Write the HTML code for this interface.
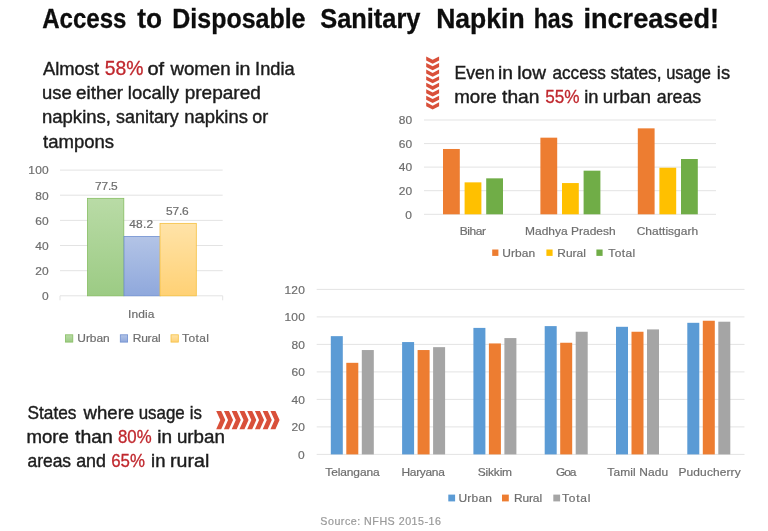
<!DOCTYPE html>
<html lang="en"><head><meta charset="utf-8"><title>Access to Disposable Sanitary Napkin has increased!</title>
<style>
html,body{margin:0;padding:0;background:#fff;}
svg{display:block;font-family:"Liberation Sans", sans-serif;filter:blur(0.45px);}
</style></head><body>
<svg width="768" height="531" viewBox="0 0 768 531">
<rect width="768" height="531" fill="#ffffff"/>
<text y="27.8" font-weight="bold"><tspan x="42.20" font-size="27.2" fill="#0d0d0d" stroke="#0d0d0d" stroke-width="0.3" textLength="84.19" lengthAdjust="spacingAndGlyphs">Access</tspan> <tspan x="137.20" font-size="27.2" fill="#0d0d0d" stroke="#0d0d0d" stroke-width="0.3" textLength="24.79" lengthAdjust="spacingAndGlyphs">to</tspan> <tspan x="172.28" font-size="27.2" fill="#0d0d0d" stroke="#0d0d0d" stroke-width="0.3" textLength="133.23" lengthAdjust="spacingAndGlyphs">Disposable</tspan> <tspan x="320.20" font-size="27.2" fill="#0d0d0d" stroke="#0d0d0d" stroke-width="0.3" textLength="100.31" lengthAdjust="spacingAndGlyphs">Sanitary</tspan> <tspan x="436.22" font-size="27.2" fill="#0d0d0d" stroke="#0d0d0d" stroke-width="0.3" textLength="88.44" lengthAdjust="spacingAndGlyphs">Napkin</tspan> <tspan x="533.65" font-size="27.2" fill="#0d0d0d" stroke="#0d0d0d" stroke-width="0.3" textLength="40.01" lengthAdjust="spacingAndGlyphs">has</tspan> <tspan x="583.50" font-size="27.2" fill="#0d0d0d" stroke="#0d0d0d" stroke-width="0.3" textLength="135.44" lengthAdjust="spacingAndGlyphs">increased!</tspan></text>
<text y="75.2" font-weight="normal"><tspan x="43.00" font-size="17.8" fill="#1c1c1c" stroke="#1c1c1c" stroke-width="0.4" textLength="56.04" lengthAdjust="spacingAndGlyphs">Almost</tspan> <tspan x="104.80" font-size="20.4" fill="#c0282e" stroke="#c0282e" stroke-width="0.3" textLength="38.72" lengthAdjust="spacingAndGlyphs">58%</tspan> <tspan x="147.40" font-size="17.8" fill="#1c1c1c" stroke="#1c1c1c" stroke-width="0.4" textLength="16.73" lengthAdjust="spacingAndGlyphs">of</tspan> <tspan x="170.45" font-size="17.8" fill="#1c1c1c" stroke="#1c1c1c" stroke-width="0.4" textLength="60.18" lengthAdjust="spacingAndGlyphs">women</tspan> <tspan x="235.20" font-size="17.8" fill="#1c1c1c" stroke="#1c1c1c" stroke-width="0.4" textLength="15.29" lengthAdjust="spacingAndGlyphs">in</tspan> <tspan x="255.08" font-size="17.8" fill="#1c1c1c" stroke="#1c1c1c" stroke-width="0.4" textLength="39.51" lengthAdjust="spacingAndGlyphs">India</tspan></text>
<text y="99.3" font-weight="normal"><tspan x="41.96" font-size="17.8" fill="#1c1c1c" stroke="#1c1c1c" stroke-width="0.4" textLength="29.72" lengthAdjust="spacingAndGlyphs">use</tspan> <tspan x="76.10" font-size="17.8" fill="#1c1c1c" stroke="#1c1c1c" stroke-width="0.4" textLength="47.02" lengthAdjust="spacingAndGlyphs">either</tspan> <tspan x="127.86" font-size="17.8" fill="#1c1c1c" stroke="#1c1c1c" stroke-width="0.4" textLength="51.22" lengthAdjust="spacingAndGlyphs">locally</tspan> <tspan x="184.73" font-size="17.8" fill="#1c1c1c" stroke="#1c1c1c" stroke-width="0.4" textLength="76.12" lengthAdjust="spacingAndGlyphs">prepared</tspan></text>
<text y="123.4" font-weight="normal"><tspan x="41.96" font-size="17.8" fill="#1c1c1c" stroke="#1c1c1c" stroke-width="0.4" textLength="69.02" lengthAdjust="spacingAndGlyphs">napkins,</tspan> <tspan x="116.10" font-size="17.8" fill="#1c1c1c" stroke="#1c1c1c" stroke-width="0.4" textLength="62.69" lengthAdjust="spacingAndGlyphs">sanitary</tspan> <tspan x="184.36" font-size="17.8" fill="#1c1c1c" stroke="#1c1c1c" stroke-width="0.4" textLength="63.52" lengthAdjust="spacingAndGlyphs">napkins</tspan> <tspan x="252.30" font-size="17.8" fill="#1c1c1c" stroke="#1c1c1c" stroke-width="0.4" textLength="15.92" lengthAdjust="spacingAndGlyphs">or</tspan></text>
<text y="147.5" font-weight="normal"><tspan x="43.00" font-size="17.8" fill="#1c1c1c" stroke="#1c1c1c" stroke-width="0.4" textLength="71.09" lengthAdjust="spacingAndGlyphs">tampons</tspan></text>
<text y="79.2" font-weight="normal"><tspan x="454.51" font-size="17.8" fill="#1c1c1c" stroke="#1c1c1c" stroke-width="0.4" textLength="40.28" lengthAdjust="spacingAndGlyphs">Even</tspan> <tspan x="498.12" font-size="17.8" fill="#1c1c1c" stroke="#1c1c1c" stroke-width="0.4" textLength="14.94" lengthAdjust="spacingAndGlyphs">in</tspan> <tspan x="517.33" font-size="17.8" fill="#1c1c1c" stroke="#1c1c1c" stroke-width="0.4" textLength="28.60" lengthAdjust="spacingAndGlyphs">low</tspan> <tspan x="552.50" font-size="17.8" fill="#1c1c1c" stroke="#1c1c1c" stroke-width="0.4" textLength="53.39" lengthAdjust="spacingAndGlyphs">access</tspan> <tspan x="610.50" font-size="17.8" fill="#1c1c1c" stroke="#1c1c1c" stroke-width="0.4" textLength="51.12" lengthAdjust="spacingAndGlyphs">states,</tspan> <tspan x="666.17" font-size="17.8" fill="#1c1c1c" stroke="#1c1c1c" stroke-width="0.4" textLength="44.82" lengthAdjust="spacingAndGlyphs">usage</tspan> <tspan x="716.87" font-size="17.8" fill="#1c1c1c" stroke="#1c1c1c" stroke-width="0.4" textLength="13.22" lengthAdjust="spacingAndGlyphs">is</tspan></text>
<text y="103.0" font-weight="normal"><tspan x="454.15" font-size="17.8" fill="#1c1c1c" stroke="#1c1c1c" stroke-width="0.4" textLength="42.64" lengthAdjust="spacingAndGlyphs">more</tspan> <tspan x="502.10" font-size="17.8" fill="#1c1c1c" stroke="#1c1c1c" stroke-width="0.4" textLength="37.36" lengthAdjust="spacingAndGlyphs">than</tspan> <tspan x="545.20" font-size="18.4" fill="#c0282e" stroke="#c0282e" stroke-width="0.3" textLength="34.33" lengthAdjust="spacingAndGlyphs">55%</tspan> <tspan x="584.17" font-size="17.8" fill="#1c1c1c" stroke="#1c1c1c" stroke-width="0.4" textLength="14.24" lengthAdjust="spacingAndGlyphs">in</tspan> <tspan x="602.74" font-size="17.8" fill="#1c1c1c" stroke="#1c1c1c" stroke-width="0.4" textLength="48.20" lengthAdjust="spacingAndGlyphs">urban</tspan> <tspan x="656.80" font-size="17.8" fill="#1c1c1c" stroke="#1c1c1c" stroke-width="0.4" textLength="44.39" lengthAdjust="spacingAndGlyphs">areas</tspan></text>
<text y="418.9" font-weight="normal"><tspan x="27.50" font-size="17.8" fill="#1c1c1c" stroke="#1c1c1c" stroke-width="0.4" textLength="48.89" lengthAdjust="spacingAndGlyphs">States</tspan> <tspan x="83.55" font-size="17.8" fill="#1c1c1c" stroke="#1c1c1c" stroke-width="0.4" textLength="50.64" lengthAdjust="spacingAndGlyphs">where</tspan> <tspan x="138.65" font-size="17.8" fill="#1c1c1c" stroke="#1c1c1c" stroke-width="0.4" textLength="46.05" lengthAdjust="spacingAndGlyphs">usage</tspan> <tspan x="189.85" font-size="17.8" fill="#1c1c1c" stroke="#1c1c1c" stroke-width="0.4" textLength="12.14" lengthAdjust="spacingAndGlyphs">is</tspan></text>
<text y="443.1" font-weight="normal"><tspan x="26.45" font-size="17.8" fill="#1c1c1c" stroke="#1c1c1c" stroke-width="0.4" textLength="42.43" lengthAdjust="spacingAndGlyphs">more</tspan> <tspan x="75.00" font-size="17.8" fill="#1c1c1c" stroke="#1c1c1c" stroke-width="0.4" textLength="37.87" lengthAdjust="spacingAndGlyphs">than</tspan> <tspan x="118.00" font-size="18.0" fill="#c0282e" stroke="#c0282e" stroke-width="0.3" textLength="33.60" lengthAdjust="spacingAndGlyphs">80%</tspan> <tspan x="157.33" font-size="17.8" fill="#1c1c1c" stroke="#1c1c1c" stroke-width="0.4" textLength="14.82" lengthAdjust="spacingAndGlyphs">in</tspan> <tspan x="176.94" font-size="17.8" fill="#1c1c1c" stroke="#1c1c1c" stroke-width="0.4" textLength="47.99" lengthAdjust="spacingAndGlyphs">urban</tspan></text>
<text y="466.8" font-weight="normal"><tspan x="27.50" font-size="17.8" fill="#1c1c1c" stroke="#1c1c1c" stroke-width="0.4" textLength="43.59" lengthAdjust="spacingAndGlyphs">areas</tspan> <tspan x="76.20" font-size="17.8" fill="#1c1c1c" stroke="#1c1c1c" stroke-width="0.4" textLength="29.79" lengthAdjust="spacingAndGlyphs">and</tspan> <tspan x="111.20" font-size="18.0" fill="#c0282e" stroke="#c0282e" stroke-width="0.3" textLength="33.70" lengthAdjust="spacingAndGlyphs">65%</tspan> <tspan x="151.06" font-size="17.8" fill="#1c1c1c" stroke="#1c1c1c" stroke-width="0.4" textLength="14.36" lengthAdjust="spacingAndGlyphs">in</tspan> <tspan x="170.10" font-size="17.8" fill="#1c1c1c" stroke="#1c1c1c" stroke-width="0.4" textLength="39.15" lengthAdjust="spacingAndGlyphs">rural</tspan></text>
<polygon fill="#d9503a" points="426.20,56.50 432.65,59.80 439.10,56.50 439.10,60.40 432.65,63.70 426.20,60.40"/>
<polygon fill="#d9503a" points="426.20,63.05 432.65,66.35 439.10,63.05 439.10,66.95 432.65,70.25 426.20,66.95"/>
<polygon fill="#d9503a" points="426.20,69.60 432.65,72.90 439.10,69.60 439.10,73.50 432.65,76.80 426.20,73.50"/>
<polygon fill="#d9503a" points="426.20,76.15 432.65,79.45 439.10,76.15 439.10,80.05 432.65,83.35 426.20,80.05"/>
<polygon fill="#d9503a" points="426.20,82.70 432.65,86.00 439.10,82.70 439.10,86.60 432.65,89.90 426.20,86.60"/>
<polygon fill="#d9503a" points="426.20,89.25 432.65,92.55 439.10,89.25 439.10,93.15 432.65,96.45 426.20,93.15"/>
<polygon fill="#d9503a" points="426.20,95.80 432.65,99.10 439.10,95.80 439.10,99.70 432.65,103.00 426.20,99.70"/>
<polygon fill="#d9503a" points="426.20,102.35 432.65,105.65 439.10,102.35 439.10,106.25 432.65,109.55 426.20,106.25"/>
<polygon fill="#d9503a" points="216.20,410.90 221.20,410.90 225.30,420.10 221.20,429.30 216.20,429.30 220.30,420.10"/>
<polygon fill="#d9503a" points="223.95,410.90 228.95,410.90 233.05,420.10 228.95,429.30 223.95,429.30 228.05,420.10"/>
<polygon fill="#d9503a" points="231.70,410.90 236.70,410.90 240.80,420.10 236.70,429.30 231.70,429.30 235.80,420.10"/>
<polygon fill="#d9503a" points="239.45,410.90 244.45,410.90 248.55,420.10 244.45,429.30 239.45,429.30 243.55,420.10"/>
<polygon fill="#d9503a" points="247.20,410.90 252.20,410.90 256.30,420.10 252.20,429.30 247.20,429.30 251.30,420.10"/>
<polygon fill="#d9503a" points="254.95,410.90 259.95,410.90 264.05,420.10 259.95,429.30 254.95,429.30 259.05,420.10"/>
<polygon fill="#d9503a" points="262.70,410.90 267.70,410.90 271.80,420.10 267.70,429.30 262.70,429.30 266.80,420.10"/>
<polygon fill="#d9503a" points="270.45,410.90 275.45,410.90 279.55,420.10 275.45,429.30 270.45,429.30 274.55,420.10"/>
<line x1="60.0" y1="295.8" x2="222.7" y2="295.8" stroke="#e3e3e3" stroke-width="1"/>
<line x1="60.0" y1="270.7" x2="222.7" y2="270.7" stroke="#e3e3e3" stroke-width="1"/>
<line x1="60.0" y1="245.5" x2="222.7" y2="245.5" stroke="#e3e3e3" stroke-width="1"/>
<line x1="60.0" y1="220.4" x2="222.7" y2="220.4" stroke="#e3e3e3" stroke-width="1"/>
<line x1="60.0" y1="195.2" x2="222.7" y2="195.2" stroke="#e3e3e3" stroke-width="1"/>
<line x1="60.0" y1="170.1" x2="222.7" y2="170.1" stroke="#e3e3e3" stroke-width="1"/>
<text transform="translate(41.90,300.10) scale(1.04,1)" font-size="11.5" fill="#6e6e6e" stroke="#6e6e6e" stroke-width="0.2" letter-spacing="0.000">0</text>
<text transform="translate(35.30,274.95) scale(1.04,1)" font-size="11.5" fill="#6e6e6e" stroke="#6e6e6e" stroke-width="0.2" letter-spacing="0.104">20</text>
<text transform="translate(35.30,249.80) scale(1.04,1)" font-size="11.5" fill="#6e6e6e" stroke="#6e6e6e" stroke-width="0.2" letter-spacing="0.104">40</text>
<text transform="translate(35.30,224.65) scale(1.04,1)" font-size="11.5" fill="#6e6e6e" stroke="#6e6e6e" stroke-width="0.2" letter-spacing="0.104">60</text>
<text transform="translate(35.30,199.50) scale(1.04,1)" font-size="11.5" fill="#6e6e6e" stroke="#6e6e6e" stroke-width="0.2" letter-spacing="0.104">80</text>
<text transform="translate(28.30,174.35) scale(1.04,1)" font-size="11.5" fill="#6e6e6e" stroke="#6e6e6e" stroke-width="0.2" letter-spacing="0.220">100</text>
<path d="M60 295.8 V300.3 M222.7 295.8 V300.3" stroke="#e3e3e3" stroke-width="1" fill="none"/>
<defs>
<linearGradient id="gG" x1="0" y1="0" x2="0" y2="1"><stop offset="0" stop-color="#b9dba6"/><stop offset="1" stop-color="#9ccb84"/></linearGradient>
<linearGradient id="gB" x1="0" y1="0" x2="0" y2="1"><stop offset="0" stop-color="#b3c4e6"/><stop offset="1" stop-color="#8fa8dc"/></linearGradient>
<linearGradient id="gY" x1="0" y1="0" x2="0" y2="1"><stop offset="0" stop-color="#ffe3a8"/><stop offset="1" stop-color="#ffd175"/></linearGradient>
</defs>
<rect x="87.50" y="198.34" width="36.30" height="97.46" fill="url(#gG)" stroke="#86bd62" stroke-width="0.8"/>
<rect x="124.00" y="236.45" width="36.30" height="59.35" fill="url(#gB)" stroke="#6f8fd0" stroke-width="0.8"/>
<rect x="160.00" y="223.37" width="36.30" height="72.43" fill="url(#gY)" stroke="#f5c040" stroke-width="0.8"/>
<text transform="translate(95.00,189.90) scale(1.04,1)" font-size="11.5" fill="#6e6e6e" stroke="#6e6e6e" stroke-width="0.2" letter-spacing="-0.181">77.5</text>
<text transform="translate(129.30,228.20) scale(1.04,1)" font-size="11.5" fill="#6e6e6e" stroke="#6e6e6e" stroke-width="0.2" letter-spacing="0.171">48.2</text>
<text transform="translate(166.00,215.20) scale(1.04,1)" font-size="11.5" fill="#6e6e6e" stroke="#6e6e6e" stroke-width="0.2" letter-spacing="-0.181">57.6</text>
<text transform="translate(127.96,318.20) scale(1.04,1)" font-size="11.5" fill="#6e6e6e" stroke="#6e6e6e" stroke-width="0.2" letter-spacing="0.115">India</text>
<rect x="65.50" y="334.80" width="7.30" height="7.30" fill="url(#gG)" stroke="#86bd62" stroke-width="0.8"/>
<text transform="translate(77.30,342.30) scale(1.04,1)" font-size="11.5" fill="#6e6e6e" stroke="#6e6e6e" stroke-width="0.2" letter-spacing="-0.039">Urban</text>
<rect x="120.30" y="334.80" width="7.30" height="7.30" fill="url(#gB)" stroke="#6f8fd0" stroke-width="0.8"/>
<text transform="translate(132.70,342.30) scale(1.04,1)" font-size="11.5" fill="#6e6e6e" stroke="#6e6e6e" stroke-width="0.2" letter-spacing="-0.169">Rural</text>
<rect x="171.00" y="334.80" width="7.30" height="7.30" fill="url(#gY)" stroke="#f5c040" stroke-width="0.8"/>
<text transform="translate(182.00,342.30) scale(1.04,1)" font-size="11.5" fill="#6e6e6e" stroke="#6e6e6e" stroke-width="0.2" letter-spacing="0.388">Total</text>
<line x1="424.0" y1="214.3" x2="716.0" y2="214.3" stroke="#e3e3e3" stroke-width="1"/>
<line x1="424.0" y1="190.7" x2="716.0" y2="190.7" stroke="#e3e3e3" stroke-width="1"/>
<line x1="424.0" y1="167.1" x2="716.0" y2="167.1" stroke="#e3e3e3" stroke-width="1"/>
<line x1="424.0" y1="143.6" x2="716.0" y2="143.6" stroke="#e3e3e3" stroke-width="1"/>
<line x1="424.0" y1="120.0" x2="716.0" y2="120.0" stroke="#e3e3e3" stroke-width="1"/>
<text transform="translate(405.30,218.60) scale(1.04,1)" font-size="11.5" fill="#6e6e6e" stroke="#6e6e6e" stroke-width="0.2" letter-spacing="0.000">0</text>
<text transform="translate(398.70,195.02) scale(1.04,1)" font-size="11.5" fill="#6e6e6e" stroke="#6e6e6e" stroke-width="0.2" letter-spacing="0.104">20</text>
<text transform="translate(398.70,171.44) scale(1.04,1)" font-size="11.5" fill="#6e6e6e" stroke="#6e6e6e" stroke-width="0.2" letter-spacing="0.104">40</text>
<text transform="translate(398.70,147.86) scale(1.04,1)" font-size="11.5" fill="#6e6e6e" stroke="#6e6e6e" stroke-width="0.2" letter-spacing="0.104">60</text>
<text transform="translate(398.70,124.28) scale(1.04,1)" font-size="11.5" fill="#6e6e6e" stroke="#6e6e6e" stroke-width="0.2" letter-spacing="0.104">80</text>
<rect x="443.00" y="148.98" width="16.80" height="65.32" fill="#ed7d31"/>
<rect x="464.60" y="182.35" width="16.80" height="31.95" fill="#ffc000"/>
<rect x="486.20" y="178.34" width="16.80" height="35.96" fill="#70ad47"/>
<rect x="540.40" y="137.67" width="16.80" height="76.63" fill="#ed7d31"/>
<rect x="562.00" y="183.06" width="16.80" height="31.24" fill="#ffc000"/>
<rect x="583.60" y="170.68" width="16.80" height="43.62" fill="#70ad47"/>
<rect x="637.80" y="128.35" width="16.80" height="85.95" fill="#ed7d31"/>
<rect x="659.40" y="167.73" width="16.80" height="46.57" fill="#ffc000"/>
<rect x="681.00" y="159.00" width="16.80" height="55.30" fill="#70ad47"/>
<text transform="translate(459.70,235.20) scale(1.04,1)" font-size="11.5" fill="#6e6e6e" stroke="#6e6e6e" stroke-width="0.2" letter-spacing="-0.360">Bihar</text>
<text transform="translate(525.00,235.20) scale(1.04,1)" font-size="11.5" fill="#6e6e6e" stroke="#6e6e6e" stroke-width="0.2" letter-spacing="0.022">Madhya Pradesh</text>
<text transform="translate(636.70,235.20) scale(1.04,1)" font-size="11.5" fill="#6e6e6e" stroke="#6e6e6e" stroke-width="0.2" letter-spacing="0.024">Chattisgarh</text>
<rect x="492.20" y="249.50" width="6.20" height="6.40" fill="#ed7d31"/>
<text transform="translate(502.30,256.90) scale(1.04,1)" font-size="11.5" fill="#6e6e6e" stroke="#6e6e6e" stroke-width="0.2" letter-spacing="0.057">Urban</text>
<rect x="546.40" y="249.50" width="6.20" height="6.40" fill="#ffc000"/>
<text transform="translate(557.30,256.90) scale(1.04,1)" font-size="11.5" fill="#6e6e6e" stroke="#6e6e6e" stroke-width="0.2" letter-spacing="-0.001">Rural</text>
<rect x="596.40" y="249.50" width="6.20" height="6.40" fill="#70ad47"/>
<text transform="translate(608.30,256.90) scale(1.04,1)" font-size="11.5" fill="#6e6e6e" stroke="#6e6e6e" stroke-width="0.2" letter-spacing="0.412">Total</text>
<line x1="316.7" y1="454.4" x2="744.5" y2="454.4" stroke="#e3e3e3" stroke-width="1"/>
<line x1="316.7" y1="426.9" x2="744.5" y2="426.9" stroke="#e3e3e3" stroke-width="1"/>
<line x1="316.7" y1="399.4" x2="744.5" y2="399.4" stroke="#e3e3e3" stroke-width="1"/>
<line x1="316.7" y1="371.9" x2="744.5" y2="371.9" stroke="#e3e3e3" stroke-width="1"/>
<line x1="316.7" y1="344.4" x2="744.5" y2="344.4" stroke="#e3e3e3" stroke-width="1"/>
<line x1="316.7" y1="316.9" x2="744.5" y2="316.9" stroke="#e3e3e3" stroke-width="1"/>
<line x1="316.7" y1="289.4" x2="744.5" y2="289.4" stroke="#e3e3e3" stroke-width="1"/>
<text transform="translate(298.00,458.70) scale(1.04,1)" font-size="11.5" fill="#6e6e6e" stroke="#6e6e6e" stroke-width="0.2" letter-spacing="0.000">0</text>
<text transform="translate(291.40,431.20) scale(1.04,1)" font-size="11.5" fill="#6e6e6e" stroke="#6e6e6e" stroke-width="0.2" letter-spacing="0.104">20</text>
<text transform="translate(291.40,403.70) scale(1.04,1)" font-size="11.5" fill="#6e6e6e" stroke="#6e6e6e" stroke-width="0.2" letter-spacing="0.104">40</text>
<text transform="translate(291.40,376.20) scale(1.04,1)" font-size="11.5" fill="#6e6e6e" stroke="#6e6e6e" stroke-width="0.2" letter-spacing="0.104">60</text>
<text transform="translate(291.40,348.70) scale(1.04,1)" font-size="11.5" fill="#6e6e6e" stroke="#6e6e6e" stroke-width="0.2" letter-spacing="0.104">80</text>
<text transform="translate(284.40,321.20) scale(1.04,1)" font-size="11.5" fill="#6e6e6e" stroke="#6e6e6e" stroke-width="0.2" letter-spacing="0.220">100</text>
<text transform="translate(284.40,293.70) scale(1.04,1)" font-size="11.5" fill="#6e6e6e" stroke="#6e6e6e" stroke-width="0.2" letter-spacing="0.220">120</text>
<rect x="330.80" y="336.15" width="12.00" height="118.25" fill="#5b9bd5"/>
<rect x="346.30" y="362.82" width="12.00" height="91.57" fill="#ed7d31"/>
<rect x="361.80" y="350.04" width="12.00" height="104.36" fill="#a5a5a5"/>
<text transform="translate(325.30,475.60) scale(1.04,1)" font-size="11.5" fill="#6e6e6e" stroke="#6e6e6e" stroke-width="0.2" letter-spacing="-0.099">Telangana</text>
<rect x="402.10" y="342.06" width="12.00" height="112.34" fill="#5b9bd5"/>
<rect x="417.60" y="350.04" width="12.00" height="104.36" fill="#ed7d31"/>
<rect x="433.10" y="347.15" width="12.00" height="107.25" fill="#a5a5a5"/>
<text transform="translate(401.50,475.60) scale(1.04,1)" font-size="11.5" fill="#6e6e6e" stroke="#6e6e6e" stroke-width="0.2" letter-spacing="-0.294">Haryana</text>
<rect x="473.40" y="327.90" width="12.00" height="126.50" fill="#5b9bd5"/>
<rect x="488.90" y="343.44" width="12.00" height="110.96" fill="#ed7d31"/>
<rect x="504.40" y="338.07" width="12.00" height="116.32" fill="#a5a5a5"/>
<text transform="translate(477.80,475.60) scale(1.04,1)" font-size="11.5" fill="#6e6e6e" stroke="#6e6e6e" stroke-width="0.2" letter-spacing="-0.175">Sikkim</text>
<rect x="544.70" y="326.11" width="12.00" height="128.29" fill="#5b9bd5"/>
<rect x="560.20" y="342.75" width="12.00" height="111.65" fill="#ed7d31"/>
<rect x="575.70" y="331.75" width="12.00" height="122.65" fill="#a5a5a5"/>
<text transform="translate(556.00,475.60) scale(1.04,1)" font-size="11.5" fill="#6e6e6e" stroke="#6e6e6e" stroke-width="0.2" letter-spacing="-1.074">Goa</text>
<rect x="616.00" y="326.80" width="12.00" height="127.60" fill="#5b9bd5"/>
<rect x="631.50" y="331.75" width="12.00" height="122.65" fill="#ed7d31"/>
<rect x="647.00" y="329.41" width="12.00" height="124.99" fill="#a5a5a5"/>
<text transform="translate(607.30,475.60) scale(1.04,1)" font-size="11.5" fill="#6e6e6e" stroke="#6e6e6e" stroke-width="0.2" letter-spacing="0.116">Tamil Nadu</text>
<rect x="687.30" y="322.81" width="12.00" height="131.59" fill="#5b9bd5"/>
<rect x="702.80" y="320.75" width="12.00" height="133.65" fill="#ed7d31"/>
<rect x="718.30" y="321.71" width="12.00" height="132.69" fill="#a5a5a5"/>
<text transform="translate(678.50,475.60) scale(1.04,1)" font-size="11.5" fill="#6e6e6e" stroke="#6e6e6e" stroke-width="0.2" letter-spacing="0.115">Puducherry</text>
<rect x="448.30" y="494.60" width="6.80" height="6.80" fill="#5b9bd5"/>
<text transform="translate(458.50,502.20) scale(1.04,1)" font-size="11.5" fill="#6e6e6e" stroke="#6e6e6e" stroke-width="0.2" letter-spacing="0.201">Urban</text>
<rect x="502.00" y="494.60" width="6.80" height="6.80" fill="#ed7d31"/>
<text transform="translate(514.00,502.20) scale(1.04,1)" font-size="11.5" fill="#6e6e6e" stroke="#6e6e6e" stroke-width="0.2" letter-spacing="-0.121">Rural</text>
<rect x="553.30" y="494.60" width="6.80" height="6.80" fill="#a5a5a5"/>
<text transform="translate(562.00,502.20) scale(1.04,1)" font-size="11.5" fill="#6e6e6e" stroke="#6e6e6e" stroke-width="0.2" letter-spacing="0.749">Total</text>
<text transform="translate(320.30,525.30) scale(1.04,1)" font-size="10.3" fill="#9a9a9a" stroke="#9a9a9a" stroke-width="0.2" letter-spacing="0.476">Source: NFHS 2015-16</text>
</svg>
</body></html>
